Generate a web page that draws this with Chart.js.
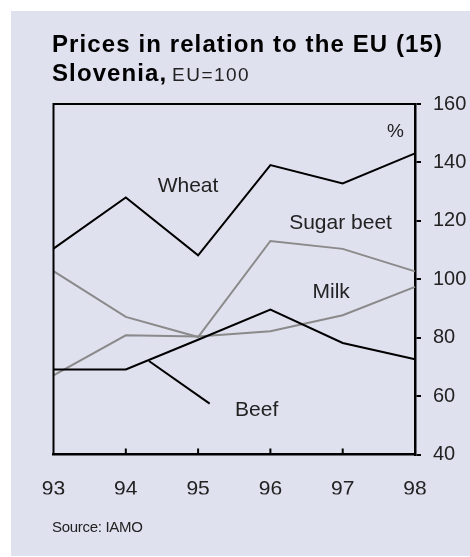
<!DOCTYPE html>
<html>
<head>
<meta charset="utf-8">
<script src="https://cdn.jsdelivr.net/npm/chart.js@4.4.0/dist/chart.umd.min.js"></script>
<style>
html, body { margin:0; padding:0; background:#fff; }
</style>
</head>
<body>
<canvas id="mycanvas" width="470" height="557"></canvas>
<script>
// data (EU = 100)
var years = ['93', '94', '95', '96', '97', '98'];
var wheat = [110.5, 128, 108.2, 139.1, 132.8, 143.1];
var sugarBeet = [102.8, 87.1, 80.2, 113.1, 110.4, 102.7];
var milk = [67.1, 80.8, 80.4, 82.2, 87.7, 97.4];
var beef = [69.1, 69.1, 79.3, 89.6, 78.2, 72.6];
var yTicks = [40, 60, 80, 100, 120, 140, 160];

var FONT = '"Liberation Sans", Arial, Helvetica, sans-serif';
var PANEL = '#dfe1ef';

// series names placed in data coordinates (x = year index, y = value)
var seriesNotes = [
    {text: 'Wheat', x: 1.86, y: 131.9},
    {text: 'Sugar beet', x: 3.97, y: 119.2},
    {text: 'Milk', x: 3.84, y: 95.5},
    {text: 'Beef', x: 2.81, y: 55.1}
];
var beefPointer = [[1.32, 72.0], [2.16, 57.4]];

var decor = {
    id: 'decor',
    beforeDraw: function (chart) {
        var ctx = chart.ctx;
        ctx.save();
        ctx.fillStyle = '#fff';
        ctx.fillRect(0, 0, chart.width, chart.height);
        ctx.fillStyle = PANEL;
        ctx.fillRect(11, 11, chart.width - 11, chart.height - 12);
        ctx.restore();
    },
    afterDatasetsDraw: function (chart) {
        var ctx = chart.ctx, a = chart.chartArea;
        var xs = chart.scales.x, ys = chart.scales.y;
        ctx.save();
        // top and left frame
        ctx.strokeStyle = '#000';
        ctx.lineWidth = 2;
        ctx.beginPath();
        ctx.moveTo(a.left, a.bottom);
        ctx.lineTo(a.left, a.top);
        ctx.lineTo(a.right, a.top);
        ctx.stroke();
        // inward ticks on the year axis
        for (var i = 1; i < years.length; i++) {
            var px = xs.getPixelForTick(i);
            ctx.beginPath();
            ctx.moveTo(px, a.bottom);
            ctx.lineTo(px, a.bottom - 6);
            ctx.stroke();
        }
        // pointer to Beef
        ctx.beginPath();
        ctx.moveTo(xs.getPixelForValue(beefPointer[0][0]), ys.getPixelForValue(beefPointer[0][1]));
        ctx.lineTo(xs.getPixelForValue(beefPointer[1][0]), ys.getPixelForValue(beefPointer[1][1]));
        ctx.stroke();
        // series names
        ctx.fillStyle = '#222';
        ctx.font = '21px ' + FONT;
        ctx.textAlign = 'center';
        ctx.textBaseline = 'middle';
        seriesNotes.forEach(function (n) {
            ctx.fillText(n.text, xs.getPixelForValue(n.x), ys.getPixelForValue(n.y));
        });
        ctx.font = '19px ' + FONT;
        ctx.fillText('%', 395.5, 131.7);
        ctx.restore();
    },
    afterDraw: function (chart) {
        var ctx = chart.ctx;
        ctx.save();
        ctx.fillStyle = '#000';
        ctx.textAlign = 'left';
        ctx.textBaseline = 'alphabetic';
        ctx.font = 'bold 24px ' + FONT;
        ctx.letterSpacing = '1.1px';
        ctx.fillText('Prices in relation to the EU (15)', 52, 52);
        ctx.fillText('Slovenia,', 52, 81);
        ctx.font = '19px ' + FONT;
        ctx.letterSpacing = '1.5px';
        ctx.fillStyle = '#222';
        ctx.fillText('EU=100', 172, 81);
        ctx.font = '15px ' + FONT;
        ctx.letterSpacing = '-0.3px';
        ctx.fillText('Source: IAMO', 52, 532);
        ctx.restore();
    }
};

var ctx = document.getElementById('mycanvas');
var chart = new Chart(ctx, {
    type: 'line',
    data: {
        labels: years,
        datasets: [
            {label: 'Wheat', data: wheat, borderColor: '#000'},
            {label: 'Beef', data: beef, borderColor: '#000'},
            {label: 'Sugar beet', data: sugarBeet, borderColor: '#8a8a8a'},
            {label: 'Milk', data: milk, borderColor: '#8a8a8a'}
        ]
    },
    options: {
        responsive: false,
        animation: false,
        layout: {padding: {top: 104, left: 53.5, right: 0, bottom: 62.5}},
        plugins: {legend: {display: false}, tooltip: {enabled: false}},
        elements: {
            point: {radius: 0},
            line: {tension: 0, borderWidth: 2, fill: false}
        },
        scales: {
            x: {
                type: 'category',
                offset: false,
                grid: {display: false, drawTicks: false},
                border: {display: true, color: '#000', width: 2.5},
                ticks: {color: '#222', font: {family: FONT, size: 21}, padding: 22, maxRotation: 0, autoSkip: false},
                afterFit: function (s) { s.height = 40; }
            },
            y: {
                position: 'right',
                min: 40,
                max: 160,
                afterBuildTicks: function (s) {
                    s.ticks = yTicks.map(function (v) { return {value: v}; });
                },
                grid: {drawOnChartArea: false, drawTicks: true, tickLength: 6, color: '#000', lineWidth: 2},
                border: {display: true, color: '#000', width: 2.5},
                ticks: {color: '#222', font: {family: FONT, size: 20}, padding: 12},
                afterFit: function (s) { s.width = 55; }
            }
        }
    },
    plugins: [decor]
});
</script>
</body>
</html>
